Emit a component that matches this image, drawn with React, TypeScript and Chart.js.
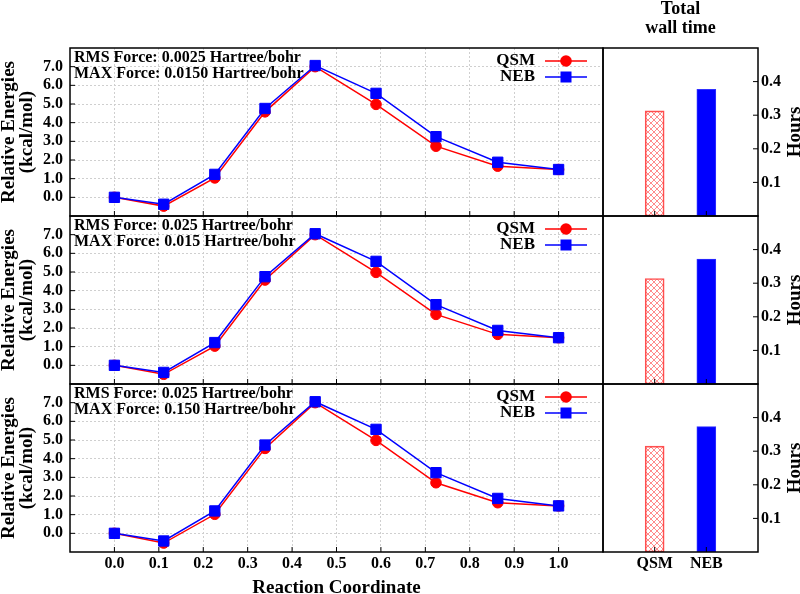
import React, { useEffect, useRef } from 'react';
import { Chart, registerables } from 'chart.js';
Chart.register(...registerables);

const FONT = "'Liberation Serif', 'DejaVu Serif', serif";

// ---- data ----
const reactionCoordinate = [0, 0.111, 0.226, 0.339, 0.452, 0.589, 0.724, 0.863, 1.0];
const qsmEnergiesA = [0, -0.47, 1.04, 4.58, 7.0, 4.98, 2.74, 1.67, 1.49];
const nebEnergiesA = [0, -0.37, 1.23, 4.76, 7.06, 5.57, 3.25, 1.88, 1.49];
const qsmEnergiesB = [0, -0.48, 1.03, 4.57, 7.0, 4.98, 2.73, 1.66, 1.48];
const nebEnergiesB = [0, -0.38, 1.22, 4.75, 7.05, 5.57, 3.25, 1.87, 1.48];
const qsmEnergiesC = [0, -0.52, 1.02, 4.55, 7.0, 4.98, 2.71, 1.64, 1.47];
const nebEnergiesC = [0, -0.41, 1.2, 4.73, 7.05, 5.57, 3.25, 1.87, 1.47];
const qsmPanels = [qsmEnergiesA, qsmEnergiesB, qsmEnergiesC];
const nebPanels = [nebEnergiesA, nebEnergiesB, nebEnergiesC];
const panelNotesA = ['RMS Force: 0.0025 Hartree/bohr', 'MAX Force: 0.0150 Hartree/bohr'];
const panelNotesB = ['RMS Force: 0.025 Hartree/bohr', 'MAX Force: 0.015 Hartree/bohr'];
const panelNotesC = ['RMS Force: 0.025 Hartree/bohr', 'MAX Force: 0.150 Hartree/bohr'];
const panelNotes = [panelNotesA, panelNotesB, panelNotesC];
const methods = ['QSM', 'NEB'];
const qsmHours = [0.313, 0.314, 0.315];
const nebHours = [0.377, 0.372, 0.373];
const energyTicks = [0, 1, 2, 3, 4, 5, 6, 7];
const coordTicks = [0, 0.1, 0.2, 0.3, 0.4, 0.5, 0.6, 0.7, 0.8, 0.9, 1.0];
const hourTicks = [0.1, 0.2, 0.3, 0.4];
const methodTicks = [0, 1];

const RED = '#ff0000';
const BLUE = '#0000ff';
const panelIds = ['y0', 'y1', 'y2'];
const hourIds = ['h0', 'h1', 'h2'];

const leftDecor = {
  id: 'leftDecor',
  beforeDatasetsDraw(chart: any) {
    const { ctx, chartArea } = chart;
    ctx.save();
    panelIds.forEach((id, p) => {
      const ys = chart.scales[id];
      ctx.font = `bold 16px ${FONT}`;
      ctx.fillStyle = '#000';
      ctx.textAlign = 'left';
      ctx.textBaseline = 'middle';
      panelNotes[p].forEach((t, i) => ctx.fillText(t, chartArea.left + 4, ys.top + 10 + i * 16));
    });
    ctx.restore();
  },
  afterDatasetsDraw(chart: any) {
    const { ctx, chartArea } = chart;
    const xs = chart.scales.x;
    ctx.save();
    panelIds.forEach((id) => {
      const ys = chart.scales[id];
      ctx.strokeStyle = '#000';
      ctx.lineWidth = 1;
      ctx.beginPath();
      coordTicks.forEach((v) => {
        const px = xs.getPixelForValue(v);
        ctx.moveTo(px, ys.bottom);
        ctx.lineTo(px, ys.bottom - 5);
      });
      energyTicks.forEach((v) => {
        const py = ys.getPixelForValue(v);
        ctx.moveTo(chartArea.left, py);
        ctx.lineTo(chartArea.left + 5, py);
      });
      ctx.stroke();
      ctx.lineWidth = 1.5;
      ctx.strokeRect(chartArea.left, ys.top, chartArea.width, ys.height);
      // legend
      const r = chartArea.right;
      const items = [
        { label: methods[0], color: RED, y: ys.top + 13, shape: 'circle' },
        { label: methods[1], color: BLUE, y: ys.top + 29, shape: 'rect' },
      ];
      items.forEach((it) => {
        ctx.font = `bold 17px ${FONT}`;
        ctx.fillStyle = '#000';
        ctx.textAlign = 'right';
        ctx.textBaseline = 'middle';
        ctx.fillText(it.label, r - 68, it.y);
        ctx.strokeStyle = it.color;
        ctx.lineWidth = 1.5;
        ctx.beginPath();
        ctx.moveTo(r - 58, it.y);
        ctx.lineTo(r - 16, it.y);
        ctx.stroke();
        ctx.fillStyle = it.color;
        const cx = r - 37;
        if (it.shape === 'circle') {
          ctx.beginPath();
          ctx.arc(cx, it.y, 5.8, 0, Math.PI * 2);
          ctx.fill();
        } else {
          ctx.fillRect(cx - 5.5, it.y - 5.5, 11, 11);
        }
      });
    });
    ctx.restore();
  },
};

const rightDecor = {
  id: 'rightDecor',
  afterDatasetsDraw(chart: any) {
    const { ctx, chartArea } = chart;
    const xs = chart.scales.x;
    ctx.save();
    hourIds.forEach((id) => {
      const ys = chart.scales[id];
      ctx.strokeStyle = '#000';
      ctx.lineWidth = 1;
      ctx.beginPath();
      methodTicks.forEach((v) => {
        const px = xs.getPixelForValue(v);
        ctx.moveTo(px, ys.bottom);
        ctx.lineTo(px, ys.bottom - 5);
      });
      hourTicks.forEach((v) => {
        const py = ys.getPixelForValue(v);
        ctx.moveTo(chartArea.right, py);
        ctx.lineTo(chartArea.right - 5, py);
      });
      ctx.stroke();
      ctx.lineWidth = 1.5;
      ctx.strokeRect(chartArea.left, ys.top, chartArea.width, ys.height);
      ctx.save();
      ctx.translate(ys.right - 5, (ys.top + ys.bottom) / 2);
      ctx.rotate(-Math.PI / 2);
      ctx.font = `bold 19px ${FONT}`;
      ctx.fillStyle = '#000';
      ctx.textAlign = 'center';
      ctx.textBaseline = 'middle';
      ctx.fillText('Hours', 0, 0);
      ctx.restore();
    });
    ctx.restore();
  },
};

function makePattern(ctx: CanvasRenderingContext2D) {
  const pc = document.createElement('canvas');
  pc.width = 6;
  pc.height = 6;
  const g = pc.getContext('2d') as CanvasRenderingContext2D;
  g.strokeStyle = 'rgba(255,60,60,0.75)';
  g.lineWidth = 0.8;
  g.beginPath();
  g.moveTo(0, 0);
  g.lineTo(6, 6);
  g.moveTo(6, 0);
  g.lineTo(0, 6);
  g.stroke();
  return ctx.createPattern(pc, 'repeat');
}

export default function App() {
  const leftRef = useRef<HTMLCanvasElement>(null);
  const rightRef = useRef<HTMLCanvasElement>(null);

  useEffect(() => {
    Chart.defaults.font.family = FONT;
    Chart.defaults.color = '#000';
    const tickFont = { family: FONT, size: 16, weight: 'bold' as const };
    const titleFont = { family: FONT, size: 19, weight: 'bold' as const, lineHeight: 0.95 };

    // ---------- left chart ----------
    const lineDatasets: any[] = [];
    panelIds.forEach((id, p) => {
      lineDatasets.push({
        type: 'line',
        label: methods[0],
        data: reactionCoordinate.map((x, i) => ({ x, y: qsmPanels[p][i] })),
        xAxisID: 'x',
        yAxisID: id,
        borderColor: RED,
        backgroundColor: RED,
        borderWidth: 1.5,
        pointStyle: 'circle',
        pointRadius: 5.3,
        pointBorderWidth: 1,
        pointBackgroundColor: RED,
        pointBorderColor: RED,
        tension: 0,
        order: 1,
      });
      lineDatasets.push({
        type: 'line',
        label: methods[1],
        data: reactionCoordinate.map((x, i) => ({ x, y: nebPanels[p][i] })),
        xAxisID: 'x',
        yAxisID: id,
        borderColor: BLUE,
        backgroundColor: BLUE,
        borderWidth: 1.5,
        pointStyle: 'rect',
        pointRadius: 7.3,
        pointBorderWidth: 1,
        pointBackgroundColor: BLUE,
        pointBorderColor: BLUE,
        tension: 0,
        order: 0,
      });
    });

    const leftScales: any = {
      x: {
        type: 'linear',
        position: 'bottom',
        min: -0.1,
        max: 1.1,
        afterBuildTicks: (s: any) => {
          s.ticks = coordTicks.map((v) => ({ value: v }));
        },
        afterFit: (s: any) => {
          s.height = 42;
        },
        ticks: {
          autoSkip: false,
          maxRotation: 0,
          padding: 2,
          font: tickFont,
          color: '#000',
          callback: (v: any) => Number(v).toFixed(1),
        },
        grid: { color: '#cfcfcf', lineWidth: 1, drawTicks: false },
        border: { display: false, dash: [2, 2] },
        title: {
          display: true,
          text: 'Reaction Coordinate',
          font: { family: FONT, size: 19, weight: 'bold', lineHeight: 1 },
          color: '#000',
          padding: { top: 0, bottom: -3.5 },
        },
      },
    };
    panelIds.forEach((id, p) => {
      leftScales[id] = {
        type: 'linear',
        position: 'left',
        stack: 'energy',
        stackWeight: 1,
        weight: 3 - p,
        min: -1,
        max: 8,
        afterBuildTicks: (s: any) => {
          s.ticks = energyTicks.map((v) => ({ value: v }));
        },
        afterFit: (s: any) => {
          s.width = 70;
        },
        ticks: {
          autoSkip: false,
          padding: 7,
          font: tickFont,
          color: '#000',
          callback: (v: any) => Number(v).toFixed(1),
        },
        grid: { color: '#cfcfcf', lineWidth: 1, drawTicks: false },
        border: { display: false, dash: [2, 2] },
        title: {
          display: true,
          text: ['Relative Energies', '(kcal/mol)'],
          font: titleFont,
          color: '#000',
          padding: { top: 0, bottom: 0 },
        },
      };
    });

    const left = new Chart(leftRef.current as HTMLCanvasElement, {
      type: 'line',
      data: { datasets: lineDatasets },
      options: {
        animation: false,
        responsive: false,
        layout: { padding: { left: 0, top: 48, right: 197, bottom: 0 } },
        plugins: { legend: { display: false }, tooltip: { enabled: false }, title: { display: false } },
        scales: leftScales,
      },
      plugins: [leftDecor],
    } as any);

    // ---------- right chart ----------
    const rctx = (rightRef.current as HTMLCanvasElement).getContext('2d') as CanvasRenderingContext2D;
    const hatch = makePattern(rctx);
    const barDatasets: any[] = hourIds.map((id, p) => ({
      type: 'bar',
      label: 'Total wall time',
      data: [
        { x: methodTicks[0], y: qsmHours[p] },
        { x: methodTicks[1], y: nebHours[p] },
      ],
      xAxisID: 'x',
      yAxisID: id,
      backgroundColor: [hatch, BLUE],
      borderColor: ['#ff5050', '#3030ff'],
      borderWidth: 1,
      borderSkipped: false,
      barThickness: 19,
      grouped: false,
    }));

    const rightScales: any = {
      x: {
        type: 'linear',
        position: 'bottom',
        offset: false,
        min: -1,
        max: 2,
        afterBuildTicks: (s: any) => {
          s.ticks = methodTicks.map((v) => ({ value: v }));
        },
        afterFit: (s: any) => {
          s.height = 42;
        },
        ticks: {
          autoSkip: false,
          maxRotation: 0,
          padding: 2,
          font: tickFont,
          color: '#000',
          callback: (v: any) => methods[Number(v)] ?? '',
        },
        grid: { display: false, drawTicks: false, offset: false },
        border: { display: false },
      },
    };
    hourIds.forEach((id, p) => {
      rightScales[id] = {
        type: 'linear',
        position: 'right',
        stack: 'hours',
        stackWeight: 1,
        weight: p + 1,
        min: 0,
        max: 0.5,
        afterBuildTicks: (s: any) => {
          s.ticks = hourTicks.map((v) => ({ value: v }));
        },
        afterFit: (s: any) => {
          s.width = 42;
        },
        ticks: {
          autoSkip: false,
          padding: 3,
          font: tickFont,
          color: '#000',
          callback: (v: any) => Number(v).toFixed(1),
        },
        grid: { display: false, drawTicks: false },
        border: { display: false },
      };
    });

    const right = new Chart(rightRef.current as HTMLCanvasElement, {
      type: 'bar',
      data: { datasets: barDatasets },
      options: {
        animation: false,
        responsive: false,
        layout: { padding: { left: 603, top: 0, right: 0, bottom: 0 } },
        plugins: {
          legend: { display: false },
          tooltip: { enabled: false },
          title: {
            display: true,
            fullSize: false,
            text: ['Total', 'wall time'],
            color: '#000',
            font: { family: FONT, size: 18, weight: 'bold', lineHeight: 1.05 },
            padding: { top: 0, bottom: 10.2 },
          },
        },
        scales: rightScales,
      },
      plugins: [rightDecor],
    } as any);

    return () => {
      left.destroy();
      right.destroy();
    };
  }, []);

  return (
    <div style={{ position: 'absolute', left: 0, top: 0, width: 800, height: 594, background: '#fff' }}>
      <canvas ref={leftRef} width={800} height={594} style={{ position: 'absolute', left: 0, top: 0 }} />
      <canvas ref={rightRef} width={800} height={594} style={{ position: 'absolute', left: 0, top: 0 }} />
    </div>
  );
}
